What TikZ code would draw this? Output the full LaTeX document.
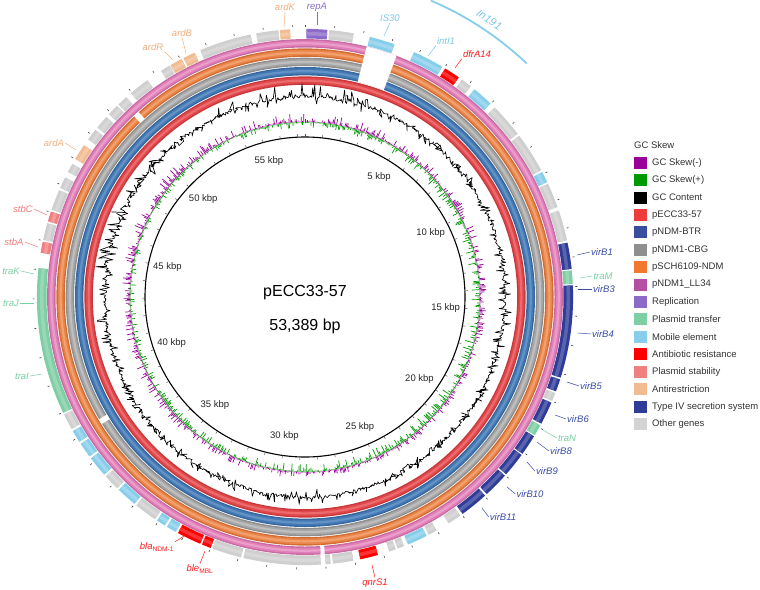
\documentclass[tikz,border=0pt]{standalone}
\usepackage{fontspec}
\setmainfont{Liberation Sans}
\definecolor{cSkN}{HTML}{990099}
\definecolor{cSkP}{HTML}{009900}
\definecolor{cR}{HTML}{EE3B3B}
\definecolor{cB}{HTML}{3A4E9F}
\definecolor{cG}{HTML}{8F8F8F}
\definecolor{cO}{HTML}{F2782E}
\definecolor{cP}{HTML}{B44FA2}
\definecolor{cRep}{HTML}{8C6BC8}
\definecolor{cTra}{HTML}{7FCFA5}
\definecolor{cMob}{HTML}{87CEEB}
\definecolor{cAb}{HTML}{FF0000}
\definecolor{cStb}{HTML}{F08080}
\definecolor{cArd}{HTML}{F2BC92}
\definecolor{cT4}{HTML}{2F3D99}
\definecolor{cOth}{HTML}{D3D3D3}
\definecolor{cGene}{HTML}{CFCFCF}
\definecolor{rRd}{HTML}{C8383C}\definecolor{rRb}{HTML}{E0484B}\definecolor{rRl}{HTML}{EC6C6E}
\definecolor{rBd}{HTML}{36679F}\definecolor{rBb}{HTML}{4479B4}\definecolor{rBl}{HTML}{6393C6}
\definecolor{rGd}{HTML}{8E8E8E}\definecolor{rGb}{HTML}{A6A6A6}\definecolor{rGl}{HTML}{BEBEBE}
\definecolor{rOd}{HTML}{D26C33}\definecolor{rOb}{HTML}{E8854B}\definecolor{rOl}{HTML}{F3A06D}
\definecolor{rPd}{HTML}{C96BA4}\definecolor{rPb}{HTML}{E07FB8}\definecolor{rPl}{HTML}{EC9ECB}
\definecolor{tArd}{HTML}{F0B080}
\definecolor{tRep}{HTML}{8A6BCB}
\definecolor{tMob}{HTML}{7EC8EA}
\definecolor{tAb}{HTML}{FF1A1A}
\definecolor{tStb}{HTML}{F07A7A}
\definecolor{tTra}{HTML}{7ACFA3}
\definecolor{tT4}{HTML}{3A4BA8}
\newcommand\gblk[3]{%
  \draw[line width=9.6pt,#1] ({90-(#2)}:263.3) arc[start angle={90-(#2)},end angle={90-(#3)},radius=263.3];
  \draw[line width=3.5pt,#1!80!white] ({90-(#2)}:263.3) arc[start angle={90-(#2)},end angle={90-(#3)},radius=263.3];}
\newcommand\ringd[4]{%
  \draw[line width=8.4pt,#2] (0,0) circle[radius=#1];
  \draw[line width=5.6pt,#3] (0,0) circle[radius=#1];
  \draw[line width=2.2pt,#4] (0,0) circle[radius=#1];}
\newcommand\wgap[4]{%
  \draw[white,line width=#4] ({90-(#1)}:#3) arc[start angle={90-(#1)},end angle={90-(#2)},radius=#3];}
\begin{document}
\begin{tikzpicture}[x=1pt,y=1pt,
  gl/.style={font=\fontsize{9.5}{11}\selectfont\itshape, inner sep=1pt},
  lead/.style={line width=0.5pt},
  kbp/.style={font=\fontsize{9.5}{11}\selectfont, text=black!85, inner sep=0pt},
  lsq/.style={minimum width=12.5pt, minimum height=12pt, inner sep=0pt, draw=none},
  ltx/.style={anchor=west, font=\fontsize{9.5}{11}\selectfont, text=black!80, inner sep=0pt},
  ctr/.style={font=\fontsize{16}{19}\selectfont, inner sep=0pt}]
\useasboundingbox (0,0) rectangle (760,-589);
\fill[white] (0,0) rectangle (760,-589);
\pgfmathsetseed{4321}
\begin{scope}[shift={(305,-297)}]
  % comparison rings
  \ringd{216.4}{rRd}{rRb}{rRl}
  \ringd{225.8}{rBd}{rBb}{rBl}
  \ringd{235.1}{rGd}{rGb}{rGl}
  \ringd{244.4}{rOd}{rOb}{rOl}
  \ringd{253.7}{rPd}{rPb}{rPl}
  \wgap{13.8}{20.8}{239.7}{36.6}
  \wgap{175.6}{176.5}{253.7}{9.6}
  \wgap{316.6}{318.0}{244.4}{9.6}
  \wgap{238.0}{239.3}{235.1}{9.6}
  % gene ring
  \gblk{cGene}{337.0}{348.3}
  \gblk{cGene}{349.5}{354.3}
  \gblk{cArd}{354.6}{356.8}
  \gblk{cRep}{0.3}{4.8}
  \gblk{cGene}{5.2}{10.5}
  \gblk{cMob}{14.0}{19.5}
  \gblk{cMob}{24.0}{30.8}
  \gblk{cAb}{31.5}{35.0}
  \gblk{cGene}{35.8}{38.2}
  \gblk{cMob}{39.2}{43.8}
  \gblk{cGene}{45.0}{52.5}
  \gblk{cGene}{53.0}{61.8}
  \gblk{cMob}{62.2}{64.6}
  \gblk{cGene}{65.0}{70.4}
  \gblk{cGene}{71.2}{77.8}
  \gblk{cT4}{78.3}{84.0}
  \gblk{cTra}{84.3}{87.2}
  \gblk{cT4}{87.5}{107.5}
  \gblk{cT4}{107.9}{110.6}
  \gblk{cGene}{111.0}{112.8}
  \gblk{cT4}{113.2}{118.2}
  \gblk{cTra}{118.6}{121.0}
  \gblk{cT4}{121.3}{125.8}
  \gblk{cT4}{126.1}{131.4}
  \gblk{cT4}{131.8}{137.3}
  \gblk{cT4}{137.8}{144.0}
  \gblk{cGene}{144.6}{147.6}
  \gblk{cGene}{150.6}{152.5}
  \gblk{cMob}{153.0}{157.4}
  \gblk{cGene}{158.3}{159.8}
  \gblk{cGene}{160.2}{161.7}
  \gblk{cAb}{164.2}{168.1}
  \gblk{cGene}{169.6}{174.0}
  \gblk{cGene}{174.5}{175.6}
  \gblk{cGene}{176.6}{193.3}
  \gblk{cGene}{193.8}{200.2}
  \gblk{cAb}{200.6}{202.6}
  \gblk{cAb}{203.0}{208.3}
  \gblk{cMob}{208.8}{211.0}
  \gblk{cMob}{211.5}{213.5}
  \gblk{cGene}{214.0}{219.0}
  \gblk{cMob}{219.5}{224.0}
  \gblk{cGene}{224.5}{228.0}
  \gblk{cMob}{228.5}{233.0}
  \gblk{cMob}{233.5}{236.8}
  \gblk{cMob}{237.3}{240.0}
  \gblk{cGene}{240.5}{244.0}
  \gblk{cTra}{244.4}{276.2}
  \gblk{cStb}{279.5}{281.9}
  \gblk{cGene}{282.3}{286.0}
  \gblk{cStb}{286.4}{288.6}
  \gblk{cGene}{289.0}{293.5}
  \gblk{cGene}{294.0}{296.5}
  \gblk{cGene}{297.8}{299.8}
  \gblk{cArd}{301.0}{304.5}
  \gblk{cGene}{306.0}{308.6}
  \gblk{cGene}{309.2}{312.2}
  \gblk{cGene}{313.0}{315.5}
  \gblk{cGene}{315.9}{318.2}
  \gblk{cGene}{319.5}{324.0}
  \gblk{cGene}{327.5}{329.7}
  \gblk{cArd}{329.9}{332.6}
  \gblk{cArd}{333.0}{335.7}
  % outer ticks
  \foreach \kk in {0,...,57}{\draw[line width=0.6pt,black!75] ({90-6.27*\kk}:270.5) -- ({90-6.27*\kk}:272.5);}
  % In191 arc
  \draw[cMob,line width=1.8pt] (67:322) arc[start angle=67,end angle=46.5,radius=322];
  \node[rotate=-33.6,font=\fontsize{11}{13}\selectfont\itshape,text=tMob,inner sep=0pt] (In191) at (56.4:333) {In191};
  % GC content
  \draw[black,line width=0.65pt,line join=round] plot[domain=0:359.7,samples=1300]
     ({90-\x}:{200+(rnd<0.18 ? 1.5+(6+7*pow(max(max(cos(\x-357),cos(\x-292)),0),10))*pow(rnd,2) : (rnd<0.15 ? -1.5-6*rnd : 1.5*rand))}) -- cycle;
  % GC skew
  \foreach \tt in {0,0.4,...,359.6}{
    \pgfmathsetmacro\lp{0.5+10*pow(rnd,3)*(0.75+0.25*cos(\tt-330))}
    \pgfmathsetmacro\lg{0.5+9*pow(rnd,3)*(0.75+0.25*cos(\tt-120))}
    \draw[cSkN,line width=0.7pt] ({90-\tt}:175) -- ({90-\tt}:{175+\lp});
    \draw[cSkP,line width=0.7pt] ({90-\tt}:175) -- ({90-\tt}:{175-\lg});
  }
  % inner circle
  \draw[line width=1.1pt] (0,0) circle[radius=160];
  \foreach \kk in {0,...,57}{\draw[line width=0.45pt,black!70] ({90-6.27*\kk}:160) -- ({90-6.27*\kk}:163);}
  \foreach \kk in {5,10,...,55}{\node[kbp] (kb\kk) at ({90-6.27*\kk-0.3}:141) {\kk\ kbp};}
\end{scope}
% centre
\node[ctr] (pname) at (305,-293) {pECC33-57};
\node[ctr] (plen) at (305,-326) {53,389 bp};
% gene labels
\node[gl,text=tArd] (ardK) at (285,-7) {ardK};
\coordinate (ardKp) at (284,-27); \draw[lead,tArd] (ardK.south) -- (ardKp);
\node[gl,text=tRep] (repA) at (317,-7) {repA};
\coordinate (repAp) at (317,-25); \draw[lead,tRep] (repA.south) -- (repAp);
\node[gl,text=tMob] (IS30) at (390,-18) {IS30};
\coordinate (IS30p) at (384,-36); \draw[lead,tMob] (IS30.south) -- (IS30p);
\node[gl,text=tMob] (intI1) at (446,-41) {intI1};
\coordinate (intI1p) at (428,-56); \draw[lead,tMob] (intI1.south west) -- (intI1p);
\node[gl,text=tAb] (dfrA14) at (477,-54) {dfrA14};
\coordinate (dfrA14p) at (455,-68); \draw[lead,tAb] (dfrA14.south west) -- (dfrA14p);
\node[gl,text=tArd] (ardB) at (182,-33) {ardB};
\coordinate (ardBp) at (186,-53); \draw[lead,tArd] (ardB.south) -- (ardBp);
\node[gl,text=tArd] (ardR) at (153,-47) {ardR};
\coordinate (ardRp) at (173,-60); \draw[lead,tArd] (ardR.south east) -- (ardRp);
\node[gl,text=tArd] (ardA) at (54,-143) {ardA};
\coordinate (ardAp) at (76,-150); \draw[lead,tArd] (ardA.east) -- (ardAp);
\node[gl,text=tStb] (stbC) at (23,-209) {stbC};
\coordinate (stbCp) at (47,-215); \draw[lead,tStb] (stbC.east) -- (stbCp);
\node[gl,text=tStb] (stbA) at (14,-242) {stbA};
\coordinate (stbAp) at (38,-247); \draw[lead,tStb] (stbA.east) -- (stbAp);
\node[gl,text=tTra] (traK) at (11,-271) {traK};
\coordinate (traKp) at (34,-274); \draw[lead,tTra] (traK.east) -- (traKp);
\node[gl,text=tTra] (traJ) at (11,-303) {traJ};
\coordinate (traJp) at (34,-303); \draw[lead,tTra] (traJ.east) -- (traJp);
\node[gl,text=tTra] (traI) at (22,-376) {traI};
\coordinate (traIp) at (42,-374); \draw[lead,tTra] (traI.east) -- (traIp);
\node[gl,text=tT4] (virB1) at (602,-252) {virB1};
\coordinate (virB1p) at (577,-255); \draw[lead,tT4] (virB1.west) -- (virB1p);
\node[gl,text=tTra] (traM) at (603,-276) {traM};
\coordinate (traMp) at (580,-278); \draw[lead,tTra] (traM.west) -- (traMp);
\node[gl,text=tT4] (virB3) at (604,-289) {virB3};
\coordinate (virB3p) at (578,-289); \draw[lead,tT4] (virB3.west) -- (virB3p);
\node[gl,text=tT4] (virB4) at (603,-334) {virB4};
\coordinate (virB4p) at (578,-333); \draw[lead,tT4] (virB4.west) -- (virB4p);
\node[gl,text=tT4] (virB5) at (591,-386) {virB5};
\coordinate (virB5p) at (567,-382); \draw[lead,tT4] (virB5.west) -- (virB5p);
\node[gl,text=tT4] (virB6) at (578,-419) {virB6};
\coordinate (virB6p) at (555,-415); \draw[lead,tT4] (virB6.west) -- (virB6p);
\node[gl,text=tTra] (traN) at (567,-438) {traN};
\coordinate (traNp) at (543,-430); \draw[lead,tTra] (traN.west) -- (traNp);
\node[gl,text=tT4] (virB8) at (561,-451) {virB8};
\coordinate (virB8p) at (537,-442); \draw[lead,tT4] (virB8.west) -- (virB8p);
\node[gl,text=tT4] (virB9) at (547,-471) {virB9};
\coordinate (virB9p) at (527,-462); \draw[lead,tT4] (virB9.west) -- (virB9p);
\node[gl,text=tT4] (virB10) at (530,-494) {virB10};
\coordinate (virB10p) at (507,-487); \draw[lead,tT4] (virB10.west) -- (virB10p);
\node[gl,text=tT4] (virB11) at (503,-517) {virB11};
\coordinate (virB11p) at (482,-508); \draw[lead,tT4] (virB11.west) -- (virB11p);
\node[gl,text=tAb] (qnrS1) at (375,-583) {qnrS1};
\coordinate (qnrS1p) at (372,-565); \draw[lead,tAb] (qnrS1.north) -- (qnrS1p);
\node[gl,text=tAb] (ble) at (200,-569) {ble\textsubscript{\upshape MBL}};
\coordinate (blep) at (205,-551); \draw[lead,tAb] (ble.north) -- (blep);
\node[gl,text=tAb] (bla) at (157,-547) {bla\textsubscript{\upshape NDM-1}};
\coordinate (blap) at (184,-536); \draw[lead,tAb] (bla.north east) -- (blap);
% legend
\node[ltx] (lgt) at (634,-145) {GC Skew};
\foreach \i/\cc/\txt in {0/cSkN/GC Skew(-),1/cSkP/GC Skew(+),2/black/GC Content,3/cR/pECC33-57,4/cB/pNDM-BTR,5/cG/pNDM1-CBG,6/cO/pSCH6109-NDM,7/cP/pNDM1\_LL34,8/cRep/Replication,9/cTra/Plasmid transfer,10/cMob/Mobile element,11/cAb/Antibiotic resistance,12/cStb/Plasmid stability,13/cArd/Antirestriction,14/cT4/Type IV secretion system,15/cOth/Other genes}{
  \node[lsq,fill=\cc] (ls\i) at (640.25,{-162.7-17.42*\i}) {};
  \node[ltx] (lt\i) at (652,{-162.7-17.42*\i}) {\txt};
}
\end{tikzpicture}
\end{document}
